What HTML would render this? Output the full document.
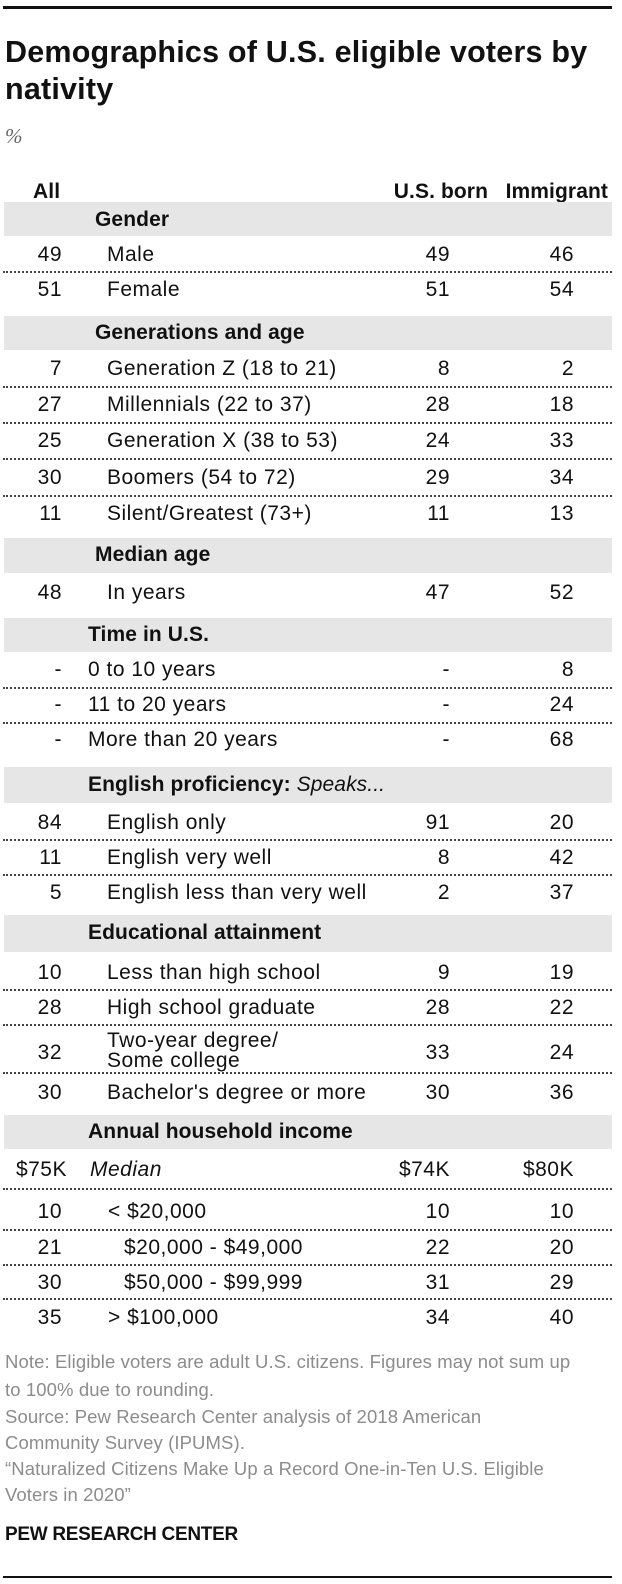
<!DOCTYPE html>
<html><head><meta charset="utf-8"><style>
body{margin:0;width:622px;height:1584px;background:#fff;position:relative;font-family:"Liberation Sans",sans-serif;color:#111;overflow:hidden}
div{position:absolute;white-space:nowrap}
.t{height:24px;line-height:24px;font-size:21px;letter-spacing:0.5px}
.b{font-weight:bold;letter-spacing:0.1px;font-size:21px}
.band{left:4px;width:608px;background:#e6e6e6}
.dot{left:3px;width:609px;border-top:2px dotted #444;height:0}
.a{left:0;width:62px;text-align:right}
.u{left:370px;width:80px;text-align:right}
.i{left:490px;width:84px;text-align:right}
.n{left:5px;font-size:18.5px;color:#8c8c8c;height:26px;line-height:26px;letter-spacing:0.1px}
</style></head><body>
<div style="left:3px;top:6px;width:609px;height:3px;background:#111"></div>
<div style="left:5px;top:34px;font-size:30.5px;font-weight:bold;line-height:37px;letter-spacing:0.2px">Demographics of U.S. eligible voters by<br>nativity</div>
<div style="left:5px;top:124px;font-size:21px;font-style:italic;color:#666;font-family:'Liberation Serif',serif">%</div>

<div class="t b" style="left:33px;top:180px">All</div>
<div class="t b" style="left:370px;width:118px;text-align:right;top:180px">U.S. born</div>
<div class="t b" style="left:490px;width:118px;text-align:right;top:180px">Immigrant</div>

<div class="band" style="top:202px;height:34px"></div>
<div class="t b" style="left:95px;top:208px">Gender</div>
<div class="t a" style="top:243px">49</div><div class="t" style="left:107px;top:243px">Male</div><div class="t u" style="top:243px">49</div><div class="t i" style="top:243px">46</div>
<div class="dot" style="top:271px"></div>
<div class="t a" style="top:278px">51</div><div class="t" style="left:107px;top:278px">Female</div><div class="t u" style="top:278px">51</div><div class="t i" style="top:278px">54</div>

<div class="band" style="top:316px;height:34px"></div>
<div class="t b" style="left:95px;top:321px">Generations and age</div>
<div class="t a" style="top:357px">7</div><div class="t" style="left:107px;top:357px">Generation Z (18 to 21)</div><div class="t u" style="top:357px">8</div><div class="t i" style="top:357px">2</div>
<div class="dot" style="top:386px"></div>
<div class="t a" style="top:393px">27</div><div class="t" style="left:107px;top:393px">Millennials (22 to 37)</div><div class="t u" style="top:393px">28</div><div class="t i" style="top:393px">18</div>
<div class="dot" style="top:422px"></div>
<div class="t a" style="top:429px">25</div><div class="t" style="left:107px;top:429px">Generation X (38 to 53)</div><div class="t u" style="top:429px">24</div><div class="t i" style="top:429px">33</div>
<div class="dot" style="top:458px"></div>
<div class="t a" style="top:466px">30</div><div class="t" style="left:107px;top:466px">Boomers (54 to 72)</div><div class="t u" style="top:466px">29</div><div class="t i" style="top:466px">34</div>
<div class="dot" style="top:495px"></div>
<div class="t a" style="top:502px">11</div><div class="t" style="left:107px;top:502px">Silent/Greatest (73+)</div><div class="t u" style="top:502px">11</div><div class="t i" style="top:502px">13</div>

<div class="band" style="top:538px;height:35px"></div>
<div class="t b" style="left:95px;top:543px">Median age</div>
<div class="t a" style="top:581px">48</div><div class="t" style="left:107px;top:581px">In years</div><div class="t u" style="top:581px">47</div><div class="t i" style="top:581px">52</div>

<div class="band" style="top:618px;height:34px"></div>
<div class="t b" style="left:88px;top:623px">Time in U.S.</div>
<div class="t a" style="top:658px">-</div><div class="t" style="left:88px;top:658px">0 to 10 years</div><div class="t u" style="top:658px">-</div><div class="t i" style="top:658px">8</div>
<div class="dot" style="top:687px"></div>
<div class="t a" style="top:693px">-</div><div class="t" style="left:88px;top:693px">11 to 20 years</div><div class="t u" style="top:693px">-</div><div class="t i" style="top:693px">24</div>
<div class="dot" style="top:722px"></div>
<div class="t a" style="top:728px">-</div><div class="t" style="left:88px;top:728px">More than 20 years</div><div class="t u" style="top:728px">-</div><div class="t i" style="top:728px">68</div>

<div class="band" style="top:767px;height:36px"></div>
<div class="t" style="left:88px;top:773px;letter-spacing:0.1px"><b>English proficiency:</b> <i>Speaks...</i></div>
<div class="t a" style="top:811px">84</div><div class="t" style="left:107px;top:811px">English only</div><div class="t u" style="top:811px">91</div><div class="t i" style="top:811px">20</div>
<div class="dot" style="top:839px"></div>
<div class="t a" style="top:846px">11</div><div class="t" style="left:107px;top:846px">English very well</div><div class="t u" style="top:846px">8</div><div class="t i" style="top:846px">42</div>
<div class="dot" style="top:874px"></div>
<div class="t a" style="top:881px">5</div><div class="t" style="left:107px;top:881px">English less than very well</div><div class="t u" style="top:881px">2</div><div class="t i" style="top:881px">37</div>

<div class="band" style="top:915px;height:37px"></div>
<div class="t b" style="left:88px;top:921px">Educational attainment</div>
<div class="t a" style="top:961px">10</div><div class="t" style="left:107px;top:961px">Less than high school</div><div class="t u" style="top:961px">9</div><div class="t i" style="top:961px">19</div>
<div class="dot" style="top:989px"></div>
<div class="t a" style="top:996px">28</div><div class="t" style="left:107px;top:996px">High school graduate</div><div class="t u" style="top:996px">28</div><div class="t i" style="top:996px">22</div>
<div class="dot" style="top:1024px"></div>
<div class="t a" style="top:1041px">32</div><div class="t" style="left:107px;top:1031px;line-height:20px;height:40px">Two-year degree/<br>Some college</div><div class="t u" style="top:1041px">33</div><div class="t i" style="top:1041px">24</div>
<div class="dot" style="top:1072px"></div>
<div class="t a" style="top:1081px">30</div><div class="t" style="left:107px;top:1081px">Bachelor's degree or more</div><div class="t u" style="top:1081px">30</div><div class="t i" style="top:1081px">36</div>

<div class="band" style="top:1115px;height:34px"></div>
<div class="t b" style="left:88px;top:1120px">Annual household income</div>
<div class="t" style="left:5px;width:62px;text-align:right;top:1158px">$75K</div><div class="t" style="left:90px;top:1158px;font-style:italic">Median</div><div class="t u" style="top:1158px">$74K</div><div class="t i" style="top:1158px">$80K</div>
<div class="dot" style="top:1188px"></div>
<div class="t a" style="top:1200px">10</div><div class="t" style="left:108px;top:1200px">&lt; $20,000</div><div class="t u" style="top:1200px">10</div><div class="t i" style="top:1200px">10</div>
<div class="dot" style="top:1229px"></div>
<div class="t a" style="top:1236px">21</div><div class="t" style="left:124px;top:1236px">$20,000 - $49,000</div><div class="t u" style="top:1236px">22</div><div class="t i" style="top:1236px">20</div>
<div class="dot" style="top:1264px"></div>
<div class="t a" style="top:1271px">30</div><div class="t" style="left:124px;top:1271px">$50,000 - $99,999</div><div class="t u" style="top:1271px">31</div><div class="t i" style="top:1271px">29</div>
<div class="dot" style="top:1298px"></div>
<div class="t a" style="top:1306px">35</div><div class="t" style="left:108px;top:1306px">&gt; $100,000</div><div class="t u" style="top:1306px">34</div><div class="t i" style="top:1306px">40</div>

<div class="n" style="top:1349px">Note: Eligible voters are adult U.S. citizens. Figures may not sum up</div>
<div class="n" style="top:1377px">to 100% due to rounding.</div>
<div class="n" style="top:1404px">Source: Pew Research Center analysis of 2018 American</div>
<div class="n" style="top:1430px">Community Survey (IPUMS).</div>
<div class="n" style="top:1456px">“Naturalized Citizens Make Up a Record One-in-Ten U.S. Eligible</div>
<div class="n" style="top:1482px">Voters in 2020”</div>
<div style="left:5px;top:1523px;font-size:19px;font-weight:bold;letter-spacing:-0.3px;line-height:24px">PEW RESEARCH CENTER</div>
<div style="left:3px;top:1576px;width:609px;height:2px;background:#111"></div>
</body></html>
